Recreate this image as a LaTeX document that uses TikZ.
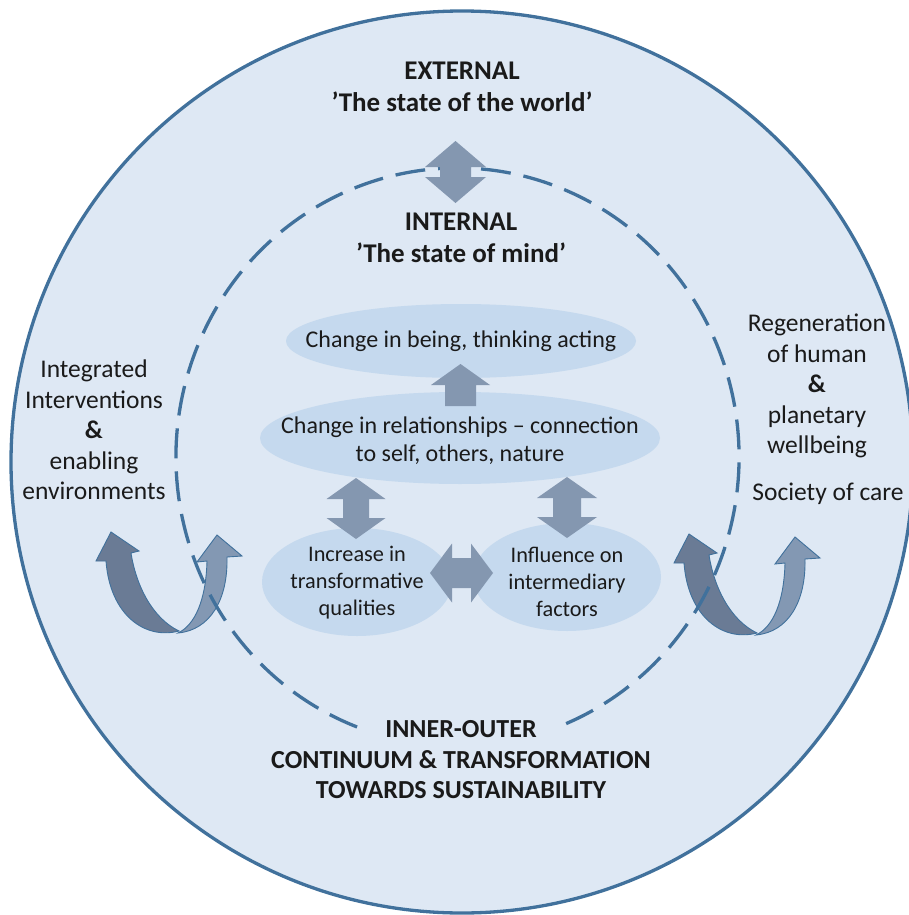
\documentclass[tikz,border=0pt]{standalone}
\usepackage{fontspec}
\setmainfont{Carlito}
\usetikzlibrary{shapes.geometric}
\definecolor{bgblue}{HTML}{DEE8F4}
\definecolor{ringblue}{HTML}{41719C}
\definecolor{ellblue}{HTML}{C5D9EE}
\definecolor{arrgray}{HTML}{8497B0}
\definecolor{udark}{HTML}{6A7B95}
\definecolor{ulight}{HTML}{8398B3}
\definecolor{txt}{HTML}{1A1A1A}
% vertical double block arrow: x, ytop, ybot, head width, shaft width, head length
\newcommand\blockvd[6]{%
  \fill[arrgray] (#1,#2) -- ({#1+#4/2},{#2+#6}) -- ({#1+#5/2},{#2+#6}) -- ({#1+#5/2},{#3-#6})
    -- ({#1+#4/2},{#3-#6}) -- (#1,#3) -- ({#1-#4/2},{#3-#6}) -- ({#1-#5/2},{#3-#6})
    -- ({#1-#5/2},{#2+#6}) -- ({#1-#4/2},{#2+#6}) -- cycle;}
% horizontal double block arrow: y, xleft, xright, head width, shaft width, head length
\newcommand\blockhd[6]{%
  \fill[arrgray] (#2,#1) -- ({#2+#6},{#1-#4/2}) -- ({#2+#6},{#1-#5/2}) -- ({#3-#6},{#1-#5/2})
    -- ({#3-#6},{#1-#4/2}) -- (#3,#1) -- ({#3-#6},{#1+#4/2}) -- ({#3-#6},{#1+#5/2})
    -- ({#2+#6},{#1+#5/2}) -- ({#2+#6},{#1+#4/2}) -- cycle;}
% single upward block arrow: x, ytip, ybottom, head width, shaft width, head length
\newcommand\blockup[6]{%
  \fill[arrgray] (#1,#2) -- ({#1+#4/2},{#2+#6}) -- ({#1+#5/2},{#2+#6}) -- ({#1+#5/2},#3)
    -- ({#1-#5/2},#3) -- ({#1-#5/2},{#2+#6}) -- ({#1-#4/2},{#2+#6}) -- cycle;}
% U-turn ribbon arrow
\newcommand\uturnarrow[1]{%
  \begin{scope}[shift={#1}]
    \filldraw[udark, draw=ringblue, line width=0.9pt, line join=miter]
      (106,561) -- (96,561) -- (111,532) -- (139,551) -- (131,553)
      .. controls (136,585) and (152,618) .. (179,631)
      .. controls (145,640) and (110,615) .. (106,561) -- cycle;
    \filldraw[ulight, draw=ringblue, line width=0.9pt, line join=miter]
      (207,561) -- (197,562) -- (217,535) -- (242,556) -- (227,557)
      .. controls (228,600) and (210,630) .. (178,633)
      .. controls (195,625) and (206,600) .. (207,561) -- cycle;
  \end{scope}}
\begin{document}
\begin{tikzpicture}[x=1pt,y=-1pt,
  blob/.style={ellipse, fill=ellblue, inner sep=0pt, outer sep=0pt},
  lbl/.style={inner sep=0pt, align=center, text=txt},
  big/.style={font=\fontsize{25.5pt}{30.5pt}\selectfont},
  bigb/.style={font=\fontsize{27pt}{32.5pt}\selectfont\bfseries},
  bigbs/.style={font=\fontsize{26pt}{30.5pt}\selectfont\bfseries},
  mid/.style={font=\fontsize{24pt}{28pt}\selectfont},
  small/.style={font=\fontsize{22.3pt}{27pt}\selectfont}]
\useasboundingbox (0,0) rectangle (909,915);
\clip (0,0) rectangle (909,915);
% outer world circle
\node[circle, draw=ringblue, line width=3.3pt, fill=bgblue, minimum size=902pt, inner sep=0pt] (outer) at (462,462) {};
% U-turn arrows
\uturnarrow{(0,0)}
\uturnarrow{(578,2)}
% dashed inner boundary
\coordinate (dc) at (457.5,457);
\draw[ringblue, line width=3.3pt, dash pattern=on 30pt off 13pt]
  ([shift={(110.9:281.5 and 289)}]dc) arc[start angle=110.9, end angle=428.6, x radius=281.5, y radius=289];
% ellipses
\node[blob, minimum width=350pt, minimum height=74pt] (e1) at (461,341) {};
\node[blob, minimum width=400pt, minimum height=92pt] (e2) at (460,438) {};
\node[blob, minimum width=190pt, minimum height=108pt] (e3) at (357,582) {};
\node[blob, minimum width=188pt, minimum height=108pt] (e4) at (567,577) {};
% block arrows
\blockvd{455.5}{141}{203}{61}{31}{26}
\blockup{460.5}{364}{406}{59}{31}{21}
\blockvd{356}{478}{539}{59}{26}{21}
\blockvd{567}{477}{538}{60}{28}{21}
\blockhd{573}{430}{493}{59}{30}{22}
% texts
\node[lbl, bigb] (ext) at (462,87) {EXTERNAL\\’The state of the world’};
\node[lbl, bigb] (int) at (461,238) {INTERNAL\\’The state of mind’};
\node[lbl, mid] (t1) at (e1) {Change in being, thinking acting};
\node[lbl, mid] (t2) at (460,441) {Change in relationships – connection\\to self, others, nature};
\node[lbl, small] (t3) at (357,583) {Increase in\\transformative\\qualities};
\node[lbl, small] (t4) at (567,582) {Influence on\\intermediary\\factors};
\node[lbl, big] (lefttxt) at (94,430) {Integrated\\Interventions\\\textbf{\&}\\enabling\\environments};
\node[lbl, big] (righttxt) at (817,386) {Regeneration\\of human\\\textbf{\&}\\planetary\\wellbeing};
\node[lbl, big] (care) at (828,494) {Society of care};
\node[lbl, bigbs] (bottxt) at (461,760) {INNER-OUTER\\CONTINUUM \& TRANSFORMATION\\TOWARDS SUSTAINABILITY};
\end{tikzpicture}
\end{document}
